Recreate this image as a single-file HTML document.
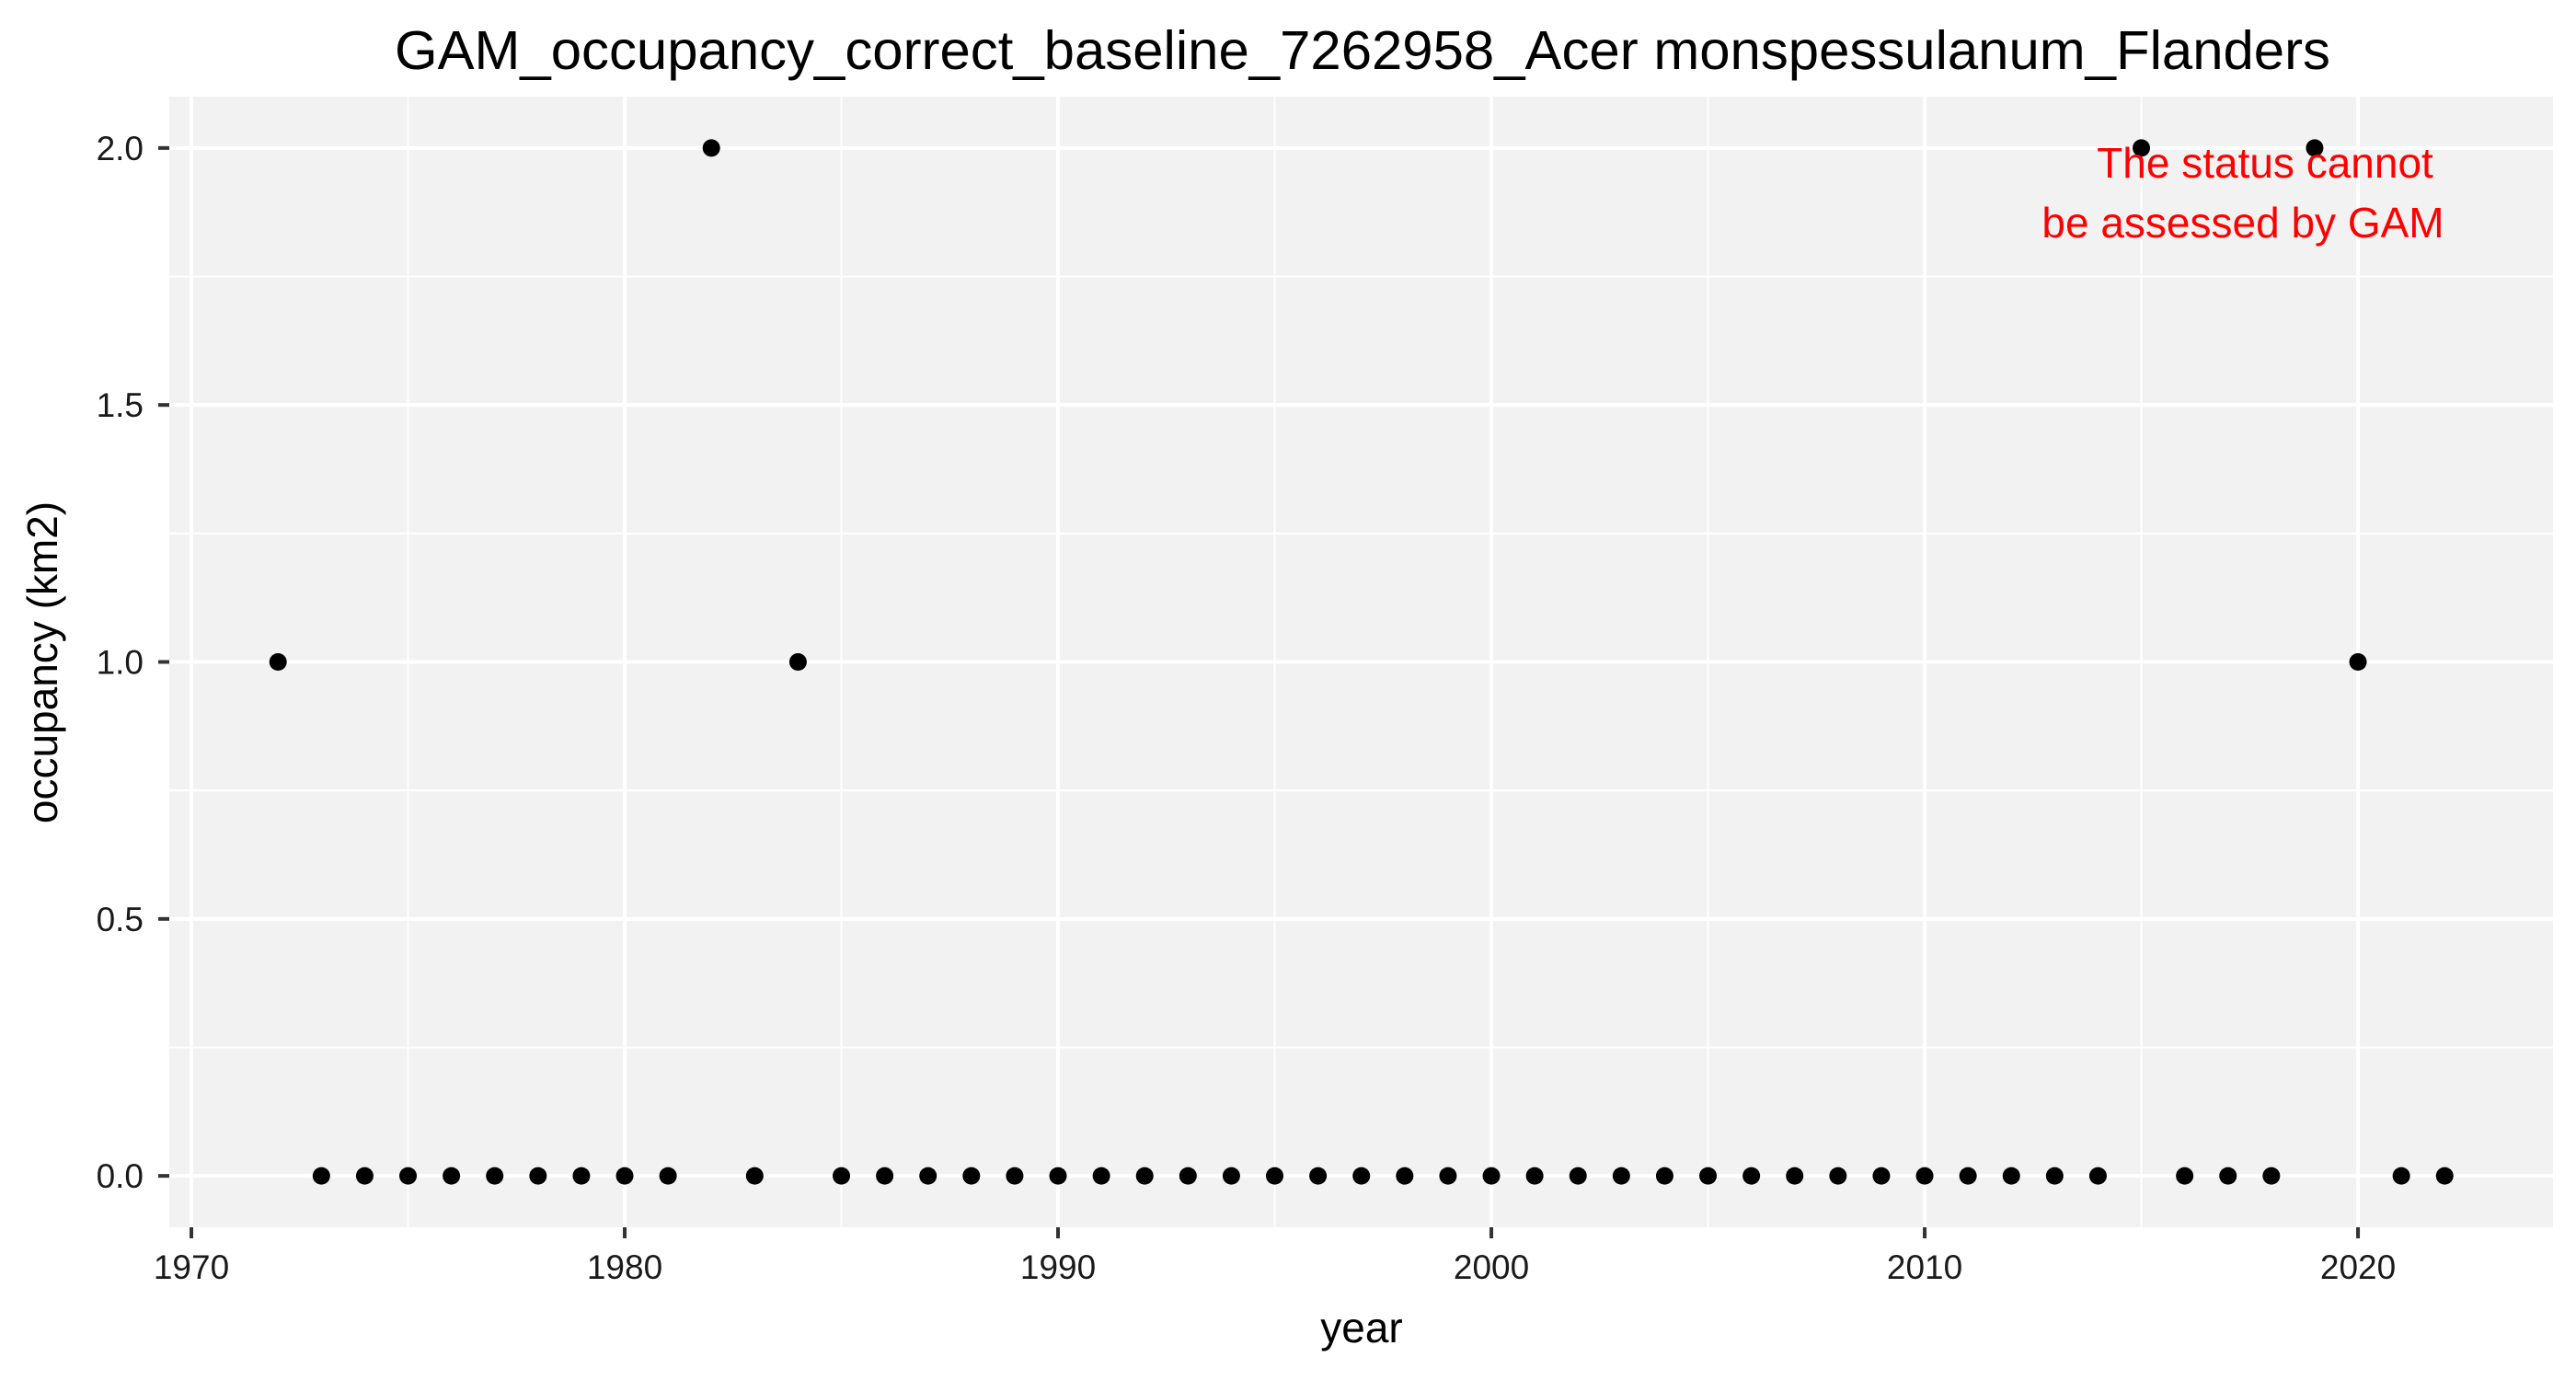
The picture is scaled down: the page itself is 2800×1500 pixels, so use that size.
<!DOCTYPE html>
<html><head><meta charset="utf-8"><style>
html,body{margin:0;padding:0;background:#fff;}
svg{display:block;font-family:"Liberation Sans",Arial,sans-serif;}
</style></head><body>
<svg id="chart" width="2800" height="1500" viewBox="0 0 2800 1500" xmlns="http://www.w3.org/2000/svg">
<rect x="0" y="0" width="2800" height="1500" fill="#ffffff"/>
<text x="1481" y="75" font-size="59" text-anchor="middle" textLength="2104" lengthAdjust="spacingAndGlyphs" fill="#000">GAM_occupancy_correct_baseline_7262958_Acer monspessulanum_Flanders</text>
<rect x="184" y="105" width="2591" height="1229" fill="#f2f2f2"/>
<g id="grid"></g>
<g id="axes"></g>
<g id="points"></g>
<text x="2462" y="193" font-size="46" text-anchor="middle" fill="#ff0000">The status cannot</text>
<text x="2438" y="258" font-size="46" text-anchor="middle" fill="#ff0000">be assessed by GAM</text>
<text x="1480" y="1459" font-size="46" text-anchor="middle" fill="#000">year</text>
<text transform="translate(62,720) rotate(-90)" font-size="46" text-anchor="middle" fill="#000">occupancy (km2)</text>
</svg>
<script>
const years = [1972,1973,1974,1975,1976,1977,1978,1979,1980,1981,1982,1983,1984,1985,1986,1987,1988,1989,1990,1991,1992,1993,1994,1995,1996,1997,1998,1999,2000,2001,2002,2003,2004,2005,2006,2007,2008,2009,2010,2011,2012,2013,2014,2015,2016,2017,2018,2019,2020,2021,2022];
const occupancy = [1,0,0,0,0,0,0,0,0,0,2,0,1,0,0,0,0,0,0,0,0,0,0,0,0,0,0,0,0,0,0,0,0,0,0,0,0,0,0,0,0,0,0,2,0,0,0,2,1,0,0];
const xTicks = [1970,1980,1990,2000,2010,2020];
const xMinor = [1975,1985,1995,2005,2015];
const yTicks = [0,0.5,1,1.5,2];
const yTickLabels = ["0.0","0.5","1.0","1.5","2.0"];
const yMinor = [0.25,0.75,1.25,1.75];

const NS = "http://www.w3.org/2000/svg";
const PL = 184, PR = 2775, PT = 105, PB = 1334;
const X0 = 1969.49, X1 = 2024.5, Y0 = -0.1, Y1 = 2.1;
function xs(v){ return PL + (v - X0) / (X1 - X0) * (PR - PL); }
function ys(v){ return PB - (v - Y0) / (Y1 - Y0) * (PB - PT); }
function mk(tag, attrs, parent){
  const e = document.createElementNS(NS, tag);
  for (const k in attrs) e.setAttribute(k, attrs[k]);
  parent.appendChild(e);
  return e;
}
const grid = document.getElementById('grid');
const axes = document.getElementById('axes');
const pts = document.getElementById('points');

xMinor.forEach(v => {
  const l = mk('line', {x1: xs(v), x2: xs(v), y1: PT, y2: PB, stroke: '#fff', 'stroke-width': 2}, grid);
  
  
});
yMinor.forEach(v => {
  const l = mk('line', {x1: PL, x2: PR, y1: ys(v), y2: ys(v), stroke: '#fff', 'stroke-width': 2}, grid);
  
  
});
xTicks.forEach(v => {
  const l = mk('line', {x1: xs(v), x2: xs(v), y1: PT, y2: PB, stroke: '#fff', 'stroke-width': 4}, grid);
  
  
  const t = mk('line', {x1: xs(v), x2: xs(v), y1: PB, y2: PB + 12, stroke: '#333', 'stroke-width': 4}, axes);
  
  
  const tx = mk('text', {x: xs(v), y: 1390, 'font-size': 37, 'text-anchor': 'middle', fill: '#1a1a1a'}, axes);
  tx.textContent = String(v);
  
  
});
yTicks.forEach((v, i) => {
  const l = mk('line', {x1: PL, x2: PR, y1: ys(v), y2: ys(v), stroke: '#fff', 'stroke-width': 4}, grid);
  
  
  const t = mk('line', {x1: PL - 12, x2: PL, y1: ys(v), y2: ys(v), stroke: '#333', 'stroke-width': 4}, axes);
  
  
  const tx = mk('text', {x: 156, y: ys(v) + 13, 'font-size': 37, 'text-anchor': 'end', fill: '#1a1a1a'}, axes);
  tx.textContent = yTickLabels[i];
  
  
});
years.forEach((yr, i) => {
  const c = mk('circle', {cx: xs(yr), cy: ys(occupancy[i]), r: 9.5, fill: '#000'}, pts);
  
  
});
</script>
</body></html>
